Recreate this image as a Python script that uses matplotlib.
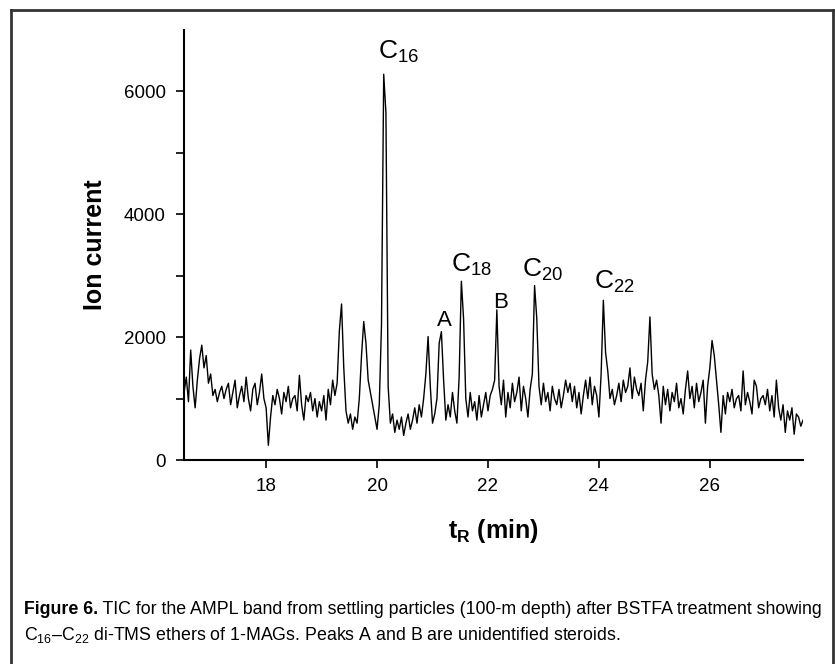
import numpy as np
import matplotlib
matplotlib.use("Agg")
import matplotlib.pyplot as plt
from matplotlib.lines import Line2D

# sampled TIC trace, one value every 0.04 min starting at 16.52 min
t_start = 16.52
t_step = 0.04
ion_current = [
    # 16.52 - 16.96
    1100, 1350, 950, 1790, 1200, 850, 1300, 1650, 1870, 1500, 1700, 1250,
    # 17.00 - 17.96
    1400, 1050, 1150, 950, 1100, 1200, 1000, 1150, 1250, 900, 1100, 1300, 850,
    1050, 1200, 950, 1350, 1000, 800, 1150, 1250, 900, 1100, 1400, 1000,
    # 18.00 - 18.96
    850, 240, 700, 1050, 900, 1150, 1000, 750, 1100, 950, 1200, 850, 1000,
    1050, 800, 1380, 900, 650, 1050, 950, 1100, 800, 1000, 700, 950,
    # 19.00 - 19.96
    800, 1050, 650, 1150, 900, 1300, 1050, 1250, 2100, 2540, 1500, 800, 600,
    750, 500, 700, 600, 1000, 1700, 2255, 1900, 1300, 1100, 900, 700,
    # 20.00 - 20.96
    500, 900, 2200, 6280, 5650, 1200, 600, 750, 450, 650, 500, 700, 400,
    600, 750, 500, 650, 850, 600, 900, 700, 1000, 1400, 2010, 1200,
    # 21.00 - 21.96
    600, 750, 1000, 1900, 2090, 1300, 650, 900, 700, 1100, 800, 600, 1350,
    2910, 2300, 1000, 700, 1100, 800, 950, 650, 1050, 700, 900, 1100,
    # 22.00 - 22.96
    800, 1050, 1150, 1300, 2445, 1200, 900, 1300, 700, 1100, 850, 1250, 950,
    1100, 1350, 800, 1200, 1000, 700, 1150, 1400, 2840, 2300, 1200, 900,
    # 23.00 - 23.96
    1250, 950, 1100, 800, 1200, 1000, 900, 1150, 850, 1050, 1300, 1100, 1250,
    950, 1200, 850, 1100, 750, 1050, 1300, 1000, 1350, 900, 1200, 1050,
    # 24.00 - 24.96
    700, 1400, 2600, 1750, 1450, 1000, 1150, 900, 1050, 1250, 950, 1300, 1100,
    1200, 1500, 1000, 1350, 1150, 1050, 1250, 800, 1300, 1600, 2330, 1400,
    # 25.00 - 25.96
    1150, 1300, 1050, 600, 1200, 900, 1150, 800, 1100, 950, 1250, 850, 1000,
    750, 1150, 1450, 1000, 1200, 850, 1250, 950, 1100, 1300, 600, 1200,
    # 26.00 - 26.96
    1500, 1945, 1700, 1300, 900, 450, 1050, 750, 1100, 950, 1150, 850, 1000,
    1050, 800, 1450, 900, 1100, 950, 750, 1300, 1200, 850, 1000, 1050,
    # 27.00 - 27.68
    900, 1150, 800, 1050, 700, 1300, 850, 650, 900, 450, 800, 650, 850,
    420, 750, 700, 550, 650,
]
t_min = t_start + t_step * np.arange(len(ion_current))

# peak labels: (text, time, intensity, fontsize, horizontal alignment)
peak_labels = [
    (r"C$_{16}$", 20.02, 6540, 19, "left"),
    (r"C$_{18}$", 21.33, 3070, 19, "left"),
    (r"C$_{20}$", 22.61, 2980, 19, "left"),
    (r"C$_{22}$", 23.91, 2800, 19, "left"),
    ("A", 21.22, 2180, 16, "center"),
    ("B", 22.23, 2480, 16, "center"),
]

x_ticks = [18, 20, 22, 24, 26]
y_ticks = [0, 1000, 2000, 3000, 4000, 5000, 6000]

caption_head = "Figure 6."
caption_line1 = "TIC for the AMPL band from settling particles (100-m depth) after BSTFA treatment showing"
caption_line2 = r"C$_{16}$–C$_{22}$ di-TMS ethers of 1-MAGs. Peaks A and B are unidentified steroids."

plt.rcParams["font.family"] = ["Liberation Sans", "DejaVu Sans"]
plt.rcParams["mathtext.fontset"] = "custom"
plt.rcParams["mathtext.rm"] = "Liberation Sans"
plt.rcParams["mathtext.bf"] = "Liberation Sans:bold"

fig = plt.figure(figsize=(8.35, 6.64), dpi=100)
ax = fig.add_axes([0.2204, 0.3072, 0.7413, 0.6476])

ax.plot(t_min, ion_current, color="black", lw=1.0)

ax.set_xlim(16.52, 27.68)
ax.set_ylim(0, 7000)
ax.set_xticks(x_ticks)
ax.set_yticks(y_ticks)
ax.set_yticklabels([str(v) if v % 2000 == 0 else "" for v in y_ticks])
ax.tick_params(direction="out", length=6, width=1.2, labelsize=13.5, pad=7)
for side in ["top", "right"]:
    ax.spines[side].set_visible(False)
for side in ["left", "bottom"]:
    ax.spines[side].set_linewidth(1.5)

ax.set_ylabel("Ion current", fontsize=18, fontweight="bold", labelpad=12)
ax.set_xlabel(r"$\mathbf{t_R}$ (min)", fontsize=18, fontweight="bold", labelpad=16)

for text, tx, ty, fs, ha in peak_labels:
    ax.text(tx, ty, text, fontsize=fs, ha=ha, va="baseline")

# caption, sized so line 1 fills the width like the reference
renderer = fig.canvas.get_renderer()
W = fig.bbox.width
x0 = 24 / W
y1 = 1 - 614 / fig.bbox.height
y2 = 1 - 640 / fig.bbox.height
target = 804
fs = 14
head = fig.text(x0, y1, caption_head, fontsize=fs, fontweight="bold", va="baseline")
rest = fig.text(0, y1, " " + caption_line1, fontsize=fs, va="baseline")
w_total = head.get_window_extent(renderer).width + rest.get_window_extent(renderer).width
fs = fs * target / w_total
head.set_fontsize(fs)
rest.set_fontsize(fs)
w_head = head.get_window_extent(renderer).width
rest.set_x(x0 + w_head / W)
fig.text(x0, y2, caption_line2, fontsize=fs, va="baseline")

# frame around the figure
fig.add_artist(Line2D([0.013, 0.013], [0.0, 0.985], color="#333333", lw=2))
fig.add_artist(Line2D([0.013, 0.998], [0.985, 0.985], color="#333333", lw=2))
fig.add_artist(Line2D([0.998, 0.998], [0.0, 0.985], color="#333333", lw=2))

fig.savefig("out.png", dpi=100)
